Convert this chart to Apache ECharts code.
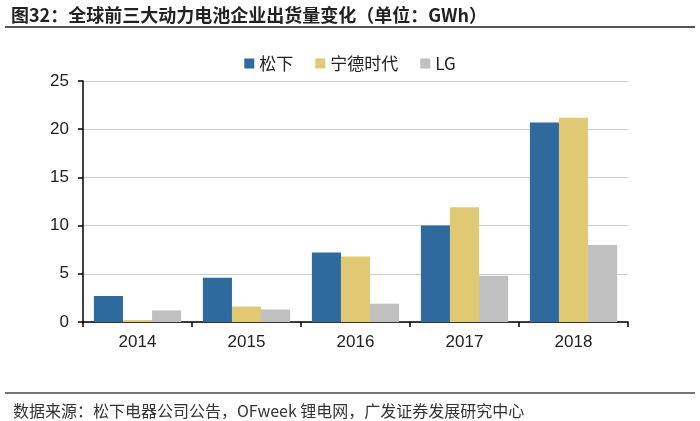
<!DOCTYPE html>
<html><head><meta charset="utf-8">
<script src="https://cdn.jsdelivr.net/npm/echarts@6/dist/echarts.min.js"></script>
<style>html,body{margin:0;padding:0;background:#fff}#c{width:700px;height:421px}</style>
</head><body><div id="c"></div>
<script>
var categories = ['2014','2015','2016','2017','2018'];
var panasonic = [2.7, 4.6, 7.2, 10.0, 20.7];
var catl = [0.2, 1.6, 6.8, 11.9, 21.2];
var lg = [1.2, 1.3, 1.9, 4.8, 8.0];
var seriesNames = ['松下','宁德时代','LG'];

var font = '"Noto Sans CJK SC","Liberation Sans",Arial,sans-serif';
var numFont = '"Liberation Sans",Arial,sans-serif';
var chart = echarts.init(document.getElementById('c'));
chart.setOption({
  animation:false,
  textStyle:{fontFamily:font},
  title:[
    {text:'图32：全球前三大动力电池企业出货量变化（单位：GWh）',left:6,top:1,textStyle:{fontSize:18,fontWeight:'bold',color:'#222',fontFamily:font}},
    {text:'数据来源：松下电器公司公告，OFweek 锂电网，广发证券发展研究中心',left:8,top:398,textStyle:{fontSize:16,fontWeight:'normal',color:'#333',fontFamily:font}}
  ],
  graphic:[
    {type:'rect',shape:{x:5,y:26,width:690,height:2},style:{fill:'#555'}},
    {type:'rect',shape:{x:5,y:392,width:690,height:2},style:{fill:'#777'}}
  ],
  legend:{top:50,left:'center',itemWidth:10,itemHeight:10,itemGap:22,icon:'rect',
    textStyle:{fontSize:17,color:'#222',fontFamily:font},data:seriesNames},
  grid:{left:83,right:72,top:81,bottom:99,containLabel:false},
  xAxis:{type:'category',data:categories,
    axisLine:{lineStyle:{color:'#000',width:1.5}},
    axisTick:{show:true,alignWithLabel:false,length:5,lineStyle:{color:'#000',width:1.5}},
    axisLabel:{fontSize:17,color:'#222',margin:12,fontFamily:numFont}},
  yAxis:{type:'value',min:0,max:25,interval:5,
    axisLine:{show:true,lineStyle:{color:'#000',width:1.5}},
    axisTick:{show:true,length:5,lineStyle:{color:'#000',width:1.5}},
    axisLabel:{fontSize:17,color:'#222',margin:14,fontFamily:numFont},
    splitLine:{lineStyle:{color:'#d0d0d0',width:1}}},
  series:[
    {name:seriesNames[0],type:'bar',data:panasonic,barGap:'0%',barCategoryGap:'20%',itemStyle:{color:'#2E6A9E'}},
    {name:seriesNames[1],type:'bar',data:catl,itemStyle:{color:'#E1C872'}},
    {name:seriesNames[2],type:'bar',data:lg,itemStyle:{color:'#C0C0C0'}}
  ]
});
</script></body></html>
